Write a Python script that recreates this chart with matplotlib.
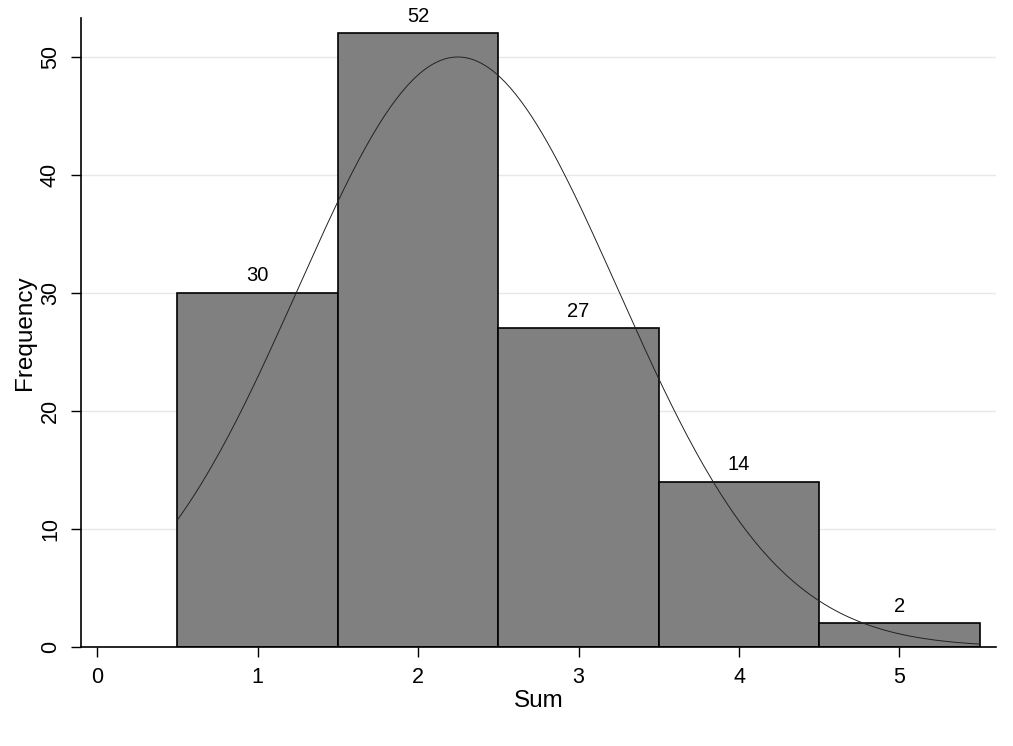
import numpy as np
import matplotlib
matplotlib.use("Agg")
import matplotlib.pyplot as plt

plt.rcParams['font.family'] = ['Liberation Sans', 'DejaVu Sans']

# histogram data
sums = [1, 2, 3, 4, 5]
counts = [30, 52, 27, 14, 2]
xticks = [0, 1, 2, 3, 4, 5]
yticks = [0, 10, 20, 30, 40, 50]

# normal curve fitted to the data
vals = np.repeat(sums, counts)
mu = vals.mean()
sd = vals.std(ddof=1)
n = len(vals)
xs = np.linspace(0.5, 5.5, 300)
ys = n * 1.0 * np.exp(-0.5 * ((xs - mu) / sd) ** 2) / (sd * np.sqrt(2 * np.pi))

fig = plt.figure(figsize=(10.13, 7.46), dpi=100)
ax = fig.add_axes([0.080, 0.1327, 0.903, 0.843])

for y in yticks[1:]:
    ax.axhline(y, color='#e8e8e8', lw=1, zorder=0)

ax.bar(sums, counts, width=1.0, color='#808080', edgecolor='black', lw=1.2, zorder=2)
ax.plot(xs, ys, color='#222222', lw=0.7, zorder=3)

for x, c in zip(sums, counts):
    ax.text(x, c + 1.0, str(c), ha='center', va='baseline', fontsize=14.5, clip_on=False)

ax.set_xlim(-0.1, 5.6)
ax.set_ylim(0, 53.3)
ax.set_xticks(xticks)
ax.set_yticks(yticks)
ax.set_yticklabels([str(t) for t in yticks], rotation=90, va='center')
ax.tick_params(axis='both', direction='out', length=7, width=1, labelsize=15.5)
ax.tick_params(axis='x', pad=7.5)
ax.tick_params(axis='y', pad=7.5)
ax.spines['top'].set_visible(False)
ax.spines['right'].set_visible(False)
ax.spines['left'].set_linewidth(1.2)
ax.spines['bottom'].set_linewidth(1.2)
ax.set_xlabel('Sum', fontsize=17.5, labelpad=1)
ax.set_ylabel('Frequency', fontsize=17.5, labelpad=3)

fig.savefig('out.png', dpi=100)
